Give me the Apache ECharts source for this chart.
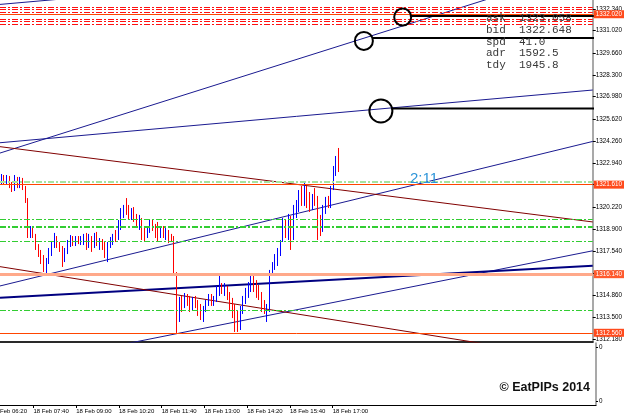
<!DOCTYPE html>
<html><head><meta charset="utf-8">
<script src="https://cdn.jsdelivr.net/npm/echarts@6/dist/echarts.min.js"></script>
<style>html,body{margin:0;padding:0;background:#fff}#c{width:625px;height:418px}</style>
</head><body><div id="c"></div>
<script>
// ---- data ----
const timeTickLabels = ['18 Feb 06:20','18 Feb 07:40','18 Feb 09:00','18 Feb 10:20','18 Feb 11:40','18 Feb 13:00','18 Feb 14:20','18 Feb 15:40','18 Feb 17:00'];
const barsPerTick = 16;      // M5 bars between time labels
const barsBeforeFirst = 4;   // 06:20 label is 4 bars before first visible candle (06:40)
const totalBars = 223;       // bars incl. empty right shift
const priceTicks = [1332.34,1331.02,1329.66,1328.30,1326.98,1325.62,1324.26,1322.94,1321.62,1320.22,1318.90,1317.54,1316.18,1314.86,1313.50,1312.18];
const priceMin = 1311.997, priceMax = 1332.89;
// [open, close, low, high]
const candles = [
[1321.71,1322.14,1321.59,1322.26],[1322.14,1321.77,1321.65,1322.20],[1321.77,1322.08,1321.65,1322.20],[1322.08,1321.53,1321.40,1322.14],
[1321.65,1321.28,1321.16,1321.77],[1321.28,1322.02,1321.22,1322.20],[1322.02,1321.53,1321.40,1322.08],[1321.53,1321.89,1321.40,1322.08],
[1321.89,1321.40,1321.28,1322.02],[1321.40,1320.67,1320.49,1321.53],[1320.67,1318.47,1318.35,1320.79],[1318.47,1318.90,1318.35,1319.08],
[1318.90,1318.47,1318.35,1319.02],[1318.47,1317.74,1317.62,1318.60],[1317.86,1317.31,1317.19,1317.98],[1317.50,1316.88,1316.76,1317.62],
[1317.13,1316.40,1316.27,1317.31],[1316.52,1317.01,1316.21,1317.13],[1316.88,1317.62,1316.76,1317.74],[1317.50,1317.98,1317.25,1318.17],
[1317.86,1318.47,1317.74,1318.66],[1318.35,1317.86,1317.74,1318.47],[1317.98,1317.62,1317.50,1318.11],[1317.74,1316.76,1316.58,1317.86],
[1317.01,1317.62,1316.88,1317.74],[1317.50,1318.11,1317.37,1318.23],[1317.98,1318.41,1317.80,1318.53],[1318.35,1317.98,1317.86,1318.47],
[1317.98,1318.35,1317.86,1318.47],[1318.35,1318.11,1317.98,1318.47],[1318.04,1318.35,1317.92,1318.47],[1318.11,1318.47,1317.92,1318.60],
[1318.47,1317.98,1317.62,1318.66],[1317.92,1318.35,1317.74,1318.60],[1318.35,1317.74,1317.50,1318.47],[1317.86,1318.47,1317.74,1318.66],
[1318.47,1317.98,1317.86,1318.72],[1317.86,1318.17,1317.62,1318.35],[1318.17,1317.86,1317.62,1318.29],[1317.98,1317.25,1317.13,1318.11],
[1317.25,1317.98,1316.88,1318.11],[1317.86,1318.23,1317.74,1318.41],[1318.11,1318.47,1317.92,1318.60],[1318.60,1318.23,1318.11,1318.84],
[1318.35,1319.21,1318.23,1319.45],[1318.96,1319.94,1318.84,1320.18],[1319.82,1320.18,1319.57,1320.37],[1320.31,1319.88,1319.76,1320.79],
[1320.06,1319.57,1319.45,1320.37],[1319.57,1320.06,1319.45,1320.18],[1320.06,1319.57,1319.33,1320.24],[1319.69,1319.08,1318.96,1319.82],
[1318.96,1319.57,1318.84,1319.76],[1319.45,1318.35,1318.23,1319.57],[1318.96,1318.23,1318.11,1319.08],[1318.47,1318.96,1318.35,1319.08],
[1318.84,1319.33,1318.66,1319.51],[1319.33,1318.96,1318.78,1319.45],[1319.08,1318.53,1318.35,1319.21],[1319.08,1318.23,1318.11,1319.33],
[1318.47,1318.96,1318.35,1319.08],[1318.96,1318.47,1318.35,1319.08],[1318.47,1318.84,1318.23,1318.96],[1318.72,1318.23,1318.04,1318.84],
[1318.47,1318.23,1318.11,1318.60],[1318.23,1316.15,1316.03,1318.47],[1316.15,1314.32,1312.55,1316.27],[1313.46,1314.56,1313.22,1314.75],
[1314.56,1313.95,1313.83,1314.81],[1314.20,1314.81,1314.07,1314.99],[1314.81,1314.44,1314.20,1314.93],[1314.69,1313.95,1313.83,1314.81],
[1314.07,1314.56,1313.95,1314.75],[1314.69,1314.20,1314.07,1314.81],[1314.44,1313.83,1313.59,1314.56],[1314.20,1313.46,1313.34,1314.32],
[1313.46,1314.07,1313.22,1314.20],[1313.95,1314.44,1313.83,1314.56],[1314.32,1314.81,1314.20,1314.93],[1314.69,1314.32,1314.20,1314.93],
[1314.32,1314.69,1314.20,1314.81],[1314.56,1315.17,1314.44,1315.42],[1314.93,1315.54,1314.81,1316.09],[1315.42,1315.05,1314.93,1315.60],
[1314.93,1315.42,1314.81,1315.60],[1315.30,1314.69,1314.56,1315.42],[1314.93,1314.20,1313.95,1315.05],[1314.56,1313.83,1313.46,1314.69],
[1314.20,1312.73,1312.61,1314.32],[1313.71,1312.85,1312.61,1313.95],[1312.97,1313.95,1312.73,1314.20],[1313.83,1314.69,1313.71,1314.81],
[1314.44,1315.05,1314.32,1315.30],[1314.81,1315.54,1314.69,1315.66],[1315.30,1315.66,1315.05,1316.21],[1315.78,1315.30,1315.05,1316.09],
[1315.66,1314.81,1314.69,1315.78],[1315.30,1314.69,1314.56,1315.48],[1314.87,1313.95,1313.83,1315.05],[1314.44,1313.83,1313.71,1314.56],
[1313.71,1314.20,1313.22,1314.32],[1313.95,1316.27,1313.83,1316.40],[1316.27,1316.76,1316.15,1316.88],[1316.52,1317.25,1316.40,1317.37],
[1316.88,1317.62,1316.64,1317.74],[1317.37,1317.98,1317.25,1318.23],[1318.23,1319.33,1318.11,1319.57],[1319.33,1318.47,1318.35,1319.45],
[1318.35,1319.57,1318.23,1319.82],[1319.45,1318.35,1317.62,1319.69],[1318.35,1320.18,1318.23,1320.37],[1319.82,1320.43,1319.57,1320.67],
[1320.18,1321.04,1319.94,1321.28],[1321.16,1320.43,1320.31,1321.53],[1320.43,1321.53,1320.31,1321.77],[1321.40,1320.43,1320.18,1321.53],
[1320.92,1320.06,1319.94,1321.16],[1320.18,1320.79,1320.06,1321.04],[1321.16,1320.43,1320.31,1321.40],[1320.67,1318.60,1318.23,1320.92],
[1319.45,1318.84,1318.47,1319.76],[1318.84,1320.18,1318.72,1320.37],[1319.94,1320.67,1319.82,1320.86],[1320.67,1320.31,1320.18,1320.92],
[1320.31,1321.40,1320.18,1321.53],[1321.53,1322.50,1321.28,1322.75],[1322.38,1323.24,1322.14,1323.36],[1323.24,1322.65,1322.38,1323.85]
];
// horizontal levels
const redDashLevels = [1332.46,1332.31,1332.16,1331.73,1331.58,1331.39];
const greenLevels = [1319.51,1318.14,1313.93];
const greenBoldLevels = [1319.05];
const paleGreenLevels = [1321.77];
const orangeLevels = [1332.019,1321.608,1312.559];
const salmonLevels = [1316.145];
const bidPrice = 1322.648;
// trend lines: [barIndex, price]
const blueTrends = [
  [[-0.5,1332.62],[36,1333.14]],
  [[-0.5,1323.54],[222.5,1334.97]],
  [[-0.5,1324.17],[222.5,1327.39]],
  [[-0.5,1315.42],[222.5,1324.25]],
  [[46,1311.86],[222.5,1317.57]]
];
const navyTrends = [[[-0.5,1314.70],[222.5,1316.66]]];
const maroonTrends = [
  [[-0.5,1323.93],[222.5,1319.33]],
  [[-0.5,1316.60],[186.6,1311.76]]
];
// black horizontal rays: [startBar, price]
const blackRays = [[153.7,1331.91],[139.8,1330.57],[146.9,1326.26]];
const circles = [[151.0,1331.85],[136.4,1330.39],[142.8,1326.11]];
const circleSizes = [17,18,23];
const infoRows = ['ask  1323.058','bid  1322.648','spd  41.0','adr  1592.5','tdy  1945.8'];
const timerText = '2:11';
const copyrightText = '\u00A9 EatPIPs 2014';

// ---- build ----
const categories = Array.from({length: totalBars}, (_, i) => String(i));
const tickSlot = (idx) => (idx + barsBeforeFirst) / barsPerTick;
const isTick = (idx) => Number.isInteger(tickSlot(idx)) && tickSlot(idx) >= 1 && tickSlot(idx) < timeTickLabels.length;

const boxLabel = (bg) => ({show:true, position:'end', distance:1,
  formatter: p => Number(p.value).toFixed(3), backgroundColor:bg, color:'#fff',
  fontSize:6.3, fontFamily:'Liberation Sans', padding:[1,2,1,2]});
const dd = [6,2,2,2];
const mlData = [].concat(
  redDashLevels.map(v => ({yAxis:v, lineStyle:{color:'#ff1010', width:1, type:dd}, label:{show:false}})),
  paleGreenLevels.map(v => ({yAxis:v, lineStyle:{color:'#a6e3a0', width:2, type:dd}, label:{show:false}})),
  greenLevels.map(v => ({yAxis:v, lineStyle:{color:'#32cd32', width:1, type:dd}, label:{show:false}})),
  greenBoldLevels.map(v => ({yAxis:v, lineStyle:{color:'#32cd32', width:2, type:dd}, label:{show:false}})),
  salmonLevels.map(v => ({yAxis:v, lineStyle:{color:'#ffa98a', width:3, type:'solid'}, label:boxLabel('#ff5a2e')})),
  orangeLevels.map(v => ({yAxis:v, lineStyle:{color:'#ff4500', width:1, type:'solid'}, label:boxLabel('#ff4a1c')})),
  [{yAxis:bidPrice, lineStyle:{opacity:0}, label:boxLabel('#000')}]
);

const lineSeries = (data, color, width, clip) => ({
  type:'line', xAxisIndex:1, yAxisIndex:0, data, showSymbol:false, silent:true,
  animation:false, clip: clip !== false, lineStyle:{color, width}, z:3
});

const series = [
  {type:'candlestick', xAxisIndex:0, yAxisIndex:0, data:candles, barWidth:1.2, z:4,
   itemStyle:{color:'#0000ff', color0:'#ff0000', borderColor:'#0000ff', borderColor0:'#ff0000', borderWidth:1},
   markLine:{symbol:['none','none'], silent:true, animation:false, data:mlData}},
];
blueTrends.forEach(t => series.push(lineSeries(t, '#1a1a90', 1)));
navyTrends.forEach(t => series.push(lineSeries(t, '#000080', 2)));
maroonTrends.forEach(t => series.push(lineSeries(t, '#800000', 1)));
blackRays.forEach(r => series.push(lineSeries([[r[0], r[1]], [245, r[1]]], '#000', 2, false)));
series.push({type:'scatter', xAxisIndex:1, yAxisIndex:0, silent:true, animation:false, z:5,
  data: circles.map((c, i) => ({value:c, symbolSize:circleSizes[i]})), symbol:'circle',
  itemStyle:{color:'rgba(0,0,0,0)', borderColor:'#000', borderWidth:2, opacity:1}});

const graphic = infoRows.map((t, i) => ({type:'text', x:486, y:[18,30.5,42.5,53.5,65][i], z:10,
  style:{text:t, font:'11px "Liberation Mono"', fill:'#383838', verticalAlign:'middle'}}));
graphic.push({type:'text', x:410, y:179, z:10, style:{text:timerText, font:'15px "Liberation Sans"', fill:'#2e95d9', verticalAlign:'middle'}});
graphic.push({type:'text', x:590, y:388, z:10, style:{text:copyrightText, font:'bold 12.5px "Liberation Sans"', fill:'#111', align:'right', verticalAlign:'middle'}});
// first time label (its bar lies left of the visible area, text is cut at the left edge)
graphic.push({type:'text', x:27, y:411.5, z:10, style:{text:timeTickLabels[0], font:'6px "Liberation Sans"', fill:'#000', align:'right', verticalAlign:'middle'}});

const chart = echarts.init(document.getElementById('c'), null, {renderer:'canvas'});
chart.setOption({
  animation:false,
  backgroundColor:'#fff',
  grid:[
    {left:0, right:29, top:0, height:342},
    {left:0, right:29, top:343, height:62}
  ],
  xAxis:[
    {gridIndex:0, type:'category', data:categories, position:'bottom',
     axisLine:{show:true, onZero:false, lineStyle:{color:'#2a2a2a', width:2}}, axisTick:{show:false}, axisLabel:{show:false}, splitLine:{show:false}},
    {gridIndex:0, type:'value', min:-0.5, max:totalBars - 0.5, position:'top', show:false, axisLine:{onZero:false}},
    {gridIndex:1, type:'category', data:categories, position:'bottom',
     axisLine:{show:true, onZero:false, lineStyle:{color:'#000', width:1}},
     axisTick:{show:true, alignWithLabel:true, interval:(i)=>isTick(i), length:3, lineStyle:{color:'#000'}},
     axisLabel:{show:true, interval:(i)=>isTick(i), formatter:(v, i)=>timeTickLabels[Math.round(tickSlot(i))] || '',
       align:'left', fontSize:6, fontFamily:'Liberation Sans', color:'#000', margin:3},
     splitLine:{show:false}}
  ],
  yAxis:[
    {gridIndex:0, type:'value', position:'right', min:priceMin, max:priceMax, scale:true,
     axisLine:{show:true, onZero:false, lineStyle:{color:'#8c8c8c', width:1.5}},
     axisTick:{show:true, customValues:priceTicks, length:3, lineStyle:{color:'#000'}},
     axisLabel:{show:true, customValues:priceTicks, formatter:(v)=>Number(v).toFixed(3), fontSize:6.3,
       fontFamily:'Liberation Sans', color:'#000', margin:3},
     splitLine:{show:false}},
    {gridIndex:1, type:'value', position:'right', min:-0.07, max:1.07,
     axisLine:{show:true, onZero:false, lineStyle:{color:'#8c8c8c', width:1.5}},
     axisTick:{show:true, customValues:[0,1], length:2, lineStyle:{color:'#000'}},
     axisLabel:{show:true, customValues:[0,1], formatter:()=>'0', fontSize:6.3, fontFamily:'Liberation Sans', color:'#000', margin:3},
     splitLine:{show:false}}
  ],
  series,
  graphic
});
</script></body></html>
